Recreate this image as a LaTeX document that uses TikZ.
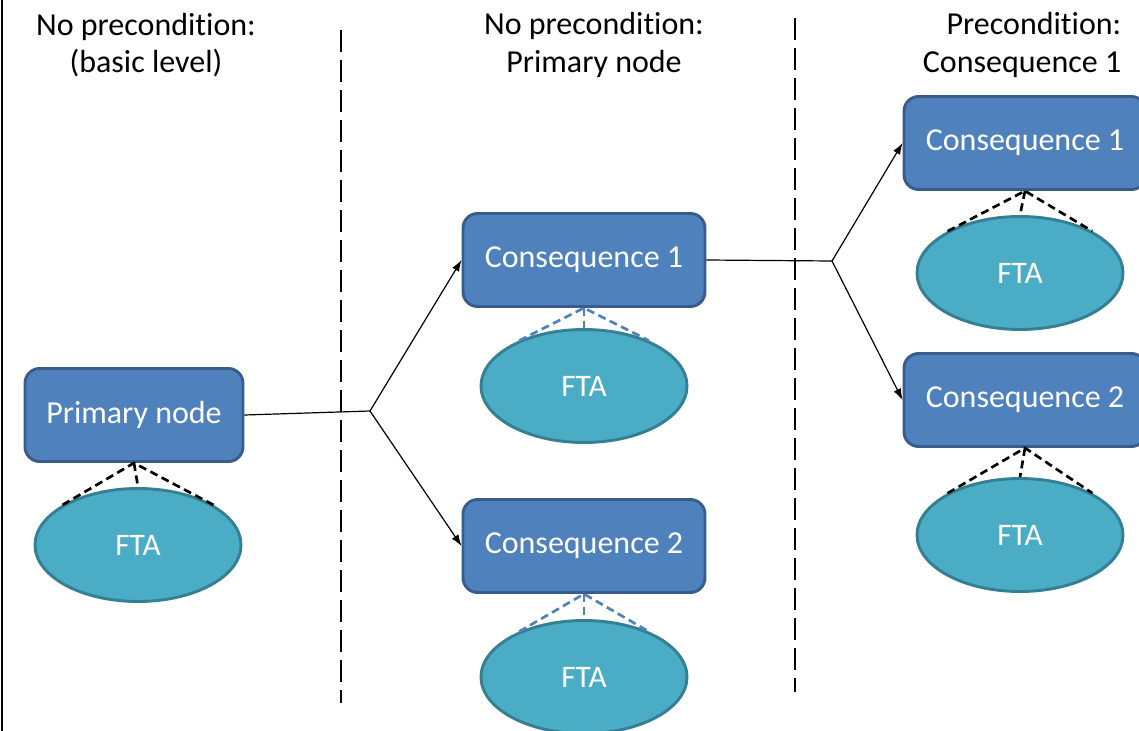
\documentclass[tikz,border=0pt]{standalone}
\usepackage{fontspec}
\setmainfont{Carlito}[Ligatures={NoCommon,NoRare,NoContextual}]
\usepackage{xcolor}
\usetikzlibrary{shapes.geometric,arrows.meta,positioning}
\definecolor{boxblue}{HTML}{4F81BD}
\definecolor{boxedge}{HTML}{385D8A}
\definecolor{ftafill}{HTML}{4BACC6}
\definecolor{ftaedge}{HTML}{357F93}

\begin{document}
\begin{tikzpicture}[x=0.75pt,y=-0.75pt,
  event/.style={draw=boxedge,line width=2.2pt,fill=boxblue,rounded corners=11pt,text=white,minimum height=69.75pt,font=\fontsize{24}{29}\selectfont},
  fta/.style={ellipse,draw=ftaedge,line width=2.2pt,fill=ftafill,text=white,minimum width=154.5pt,minimum height=84.75pt,font=\fontsize{23.5}{28}\selectfont},
  heading/.style={align=center,font=\fontsize{24}{28}\selectfont},
  link/.style={line width=0.9pt},
  hook/.style={line width=2pt,dash pattern=on 6pt off 3.5pt},
  sep/.style={line width=2.2pt,dash pattern=on 16.5pt off 6pt}]
\useasboundingbox (0,0) rectangle (1139,731);
\clip (0,0) rectangle (1139,731);

% frame line and column separators
\coordinate (edget) at (2,0);
\coordinate (edgeb) at (2,731);
\draw[line width=2.2pt] (edget) -- (edgeb);
\coordinate (s1t) at (341,30);
\coordinate (s1b) at (341,703);
\coordinate (s2t) at (795,18);
\coordinate (s2b) at (795,692);
\draw[sep] (s1t) -- (s1b);
\draw[sep] (s2t) -- (s2b);

% column headings
\node[heading] (h1) at (146,45) {No precondition:\\(basic level)};
\node[heading] (h2) at (594,45) {No precondition:\\Primary node};
\node[heading,align=right,anchor=east] (h3) at (1126,45) {Precondition:\\Consequence 1};

% events
\node[event,minimum width=163.5pt] (prim) at (134,415) {Primary node};
\node[event,minimum width=181.5pt] (c1) at (584,260) {Consequence 1};
\node[event,minimum width=181.5pt] (c2) at (584,546) {Consequence 2};
\node[event,minimum width=181.5pt] (d1) at (1025,143) {Consequence 1};
\node[event,minimum width=181.5pt] (d2) at (1025,400) {Consequence 2};

% fault trees
\node[fta] (fprim) at (138,545) {FTA};
\node[fta] (fc1) at (584,386) {FTA};
\node[fta] (fc2) at (584,677) {FTA};
\node[fta] (fd1) at (1020,273) {FTA};
\node[fta] (fd2) at (1020,535) {FTA};

\draw[hook] (fprim.152) -- (prim.south) -- (fprim.28);
\draw[hook] (prim.south) -- (fprim.north);
\draw[hook,draw=boxblue] (fc1.145) -- (c1.south) -- (fc1.35);
\draw[hook,draw=boxblue] (c1.south) -- (fc1.north);
\draw[hook,draw=boxblue] (fc2.145) -- (c2.south) -- (fc2.35);
\draw[hook,draw=boxblue] (c2.south) -- (fc2.north);
\draw[hook] (fd1.150) -- (d1.south) -- (fd1.30);
\draw[hook] (d1.south) -- (fd1.north);
\draw[hook] (fd2.150) -- (d2.south) -- (fd2.30);
\draw[hook] (d2.south) -- (fd2.north);

% branching
\coordinate (j1) at (370,411);
\coordinate (j2) at (832,261);
\draw[link] (prim.east) -- (j1);
\draw[link,-{Latex[length=8.5pt,width=6pt]}] (j1) -- (c1.west);
\draw[link,-{Latex[length=8.5pt,width=6pt]}] (j1) -- (c2.west);
\draw[link] (c1.east) -- (j2);
\draw[link,-{Latex[length=8.5pt,width=6pt]}] (j2) -- (d1.west);
\draw[link,-{Latex[length=8.5pt,width=6pt]}] (j2) -- (d2.west);
\end{tikzpicture}
\end{document}
